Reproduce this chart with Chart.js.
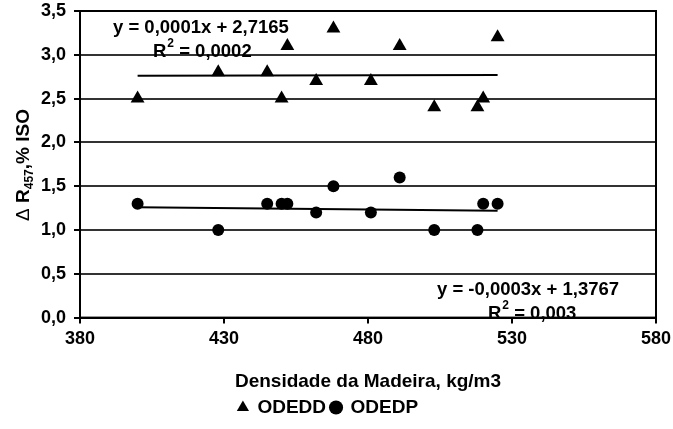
<!DOCTYPE html>
<html>
<head>
<meta charset="utf-8">
<script src="https://cdn.jsdelivr.net/npm/chart.js@4.4.1/dist/chart.umd.min.js"></script>
<style>
  html, body { margin: 0; padding: 0; background: #fff; }
  #wrap { width: 673px; height: 429px; }
</style>
</head>
<body>
<div id="wrap"><canvas id="grafico" width="673" height="429"></canvas></div>
<script>
// dados
const densidade = [400, 428, 445, 450, 452, 462, 468, 481, 491, 503, 518, 520, 525];
const odedd = [2.5, 2.8, 2.8, 2.5, 3.1, 2.7, 3.3, 2.7, 3.1, 2.4, 2.4, 2.5, 3.2];
const odedp = [1.3, 1.0, 1.3, 1.3, 1.3, 1.2, 1.5, 1.2, 1.6, 1.0, 1.0, 1.3, 1.3];
// linhas de tendencia (extremos)
const tendX = [400, 525];
const tendOdedd = [2.76, 2.77];
const tendOdedp = [1.26, 1.22];
const xTicks = [380, 430, 480, 530, 580];
const yTicks = [0, 0.5, 1.0, 1.5, 2.0, 2.5, 3.0, 3.5];
const series = ['ODEDD', 'ODEDP'];
const equacoes = [
    { eq: 'y = 0,0001x + 2,7165', r2: '0,0002' },
    { eq: 'y = -0,0003x + 1,3767', r2: '0,003' }
];

const FONTE = "'Liberation Sans', Arial, sans-serif";
Chart.defaults.font.family = FONTE;
Chart.defaults.color = '#000';

function pontos(xs, ys) {
    return xs.map((x, i) => ({ x: x, y: ys[i] }));
}
function virgula(v) {
    return v.toFixed(1).replace('.', ',');
}

// titulo do eixo y com subscrito
const tituloY = {
    id: 'tituloY',
    afterDraw(chart) {
        const ctx = chart.ctx;
        const partes = [
            { t: '\u0394 ', f: 'normal 19px ' + FONTE, dy: 0 },
            { t: 'R', f: 'bold 19px ' + FONTE, dy: 0 },
            { t: '457', f: 'bold 12px ' + FONTE, dy: 4 },
            { t: ',% ISO', f: 'bold 19px ' + FONTE, dy: 0 }
        ];
        ctx.save();
        let total = 0;
        partes.forEach(p => { ctx.font = p.f; p.w = ctx.measureText(p.t).width; total += p.w; });
        ctx.translate(22, 165);
        ctx.rotate(-Math.PI / 2);
        ctx.fillStyle = '#000';
        ctx.textBaseline = 'alphabetic';
        let x = -total / 2;
        partes.forEach(p => {
            ctx.font = p.f;
            ctx.fillText(p.t, x, 7 + p.dy);
            x += p.w;
        });
        ctx.restore();
    }
};

// equacoes das linhas de tendencia + moldura
const textos = {
    id: 'textos',
    afterDatasetsDraw(chart) {
        const ctx = chart.ctx;
        const a = chart.chartArea;
        ctx.save();
        ctx.strokeStyle = '#000';
        ctx.lineWidth = 2;
        ctx.strokeRect(a.left, a.top, a.right - a.left, a.bottom - a.top);
        ctx.fillStyle = '#000';
        ctx.textBaseline = 'alphabetic';
        const pos = [
            { x1: 113, y1: 33, x2: 153, y2: 57 },
            { x1: 437, y1: 295, x2: 488, y2: 319 }
        ];
        equacoes.forEach((e, i) => {
            const p = pos[i];
            ctx.font = 'bold 18.5px ' + FONTE;
            ctx.fillText(e.eq, p.x1, p.y1);
            ctx.fillText('R', p.x2, p.y2);
            const wR = ctx.measureText('R').width;
            ctx.font = 'bold 12px ' + FONTE;
            ctx.fillText('2', p.x2 + wR + 1, p.y2 - 10);
            const w2 = ctx.measureText('2').width;
            ctx.font = 'bold 18.5px ' + FONTE;
            ctx.fillText(' = ' + e.r2, p.x2 + wR + w2 + 1, p.y2);
        });
        ctx.restore();
    }
};

new Chart(document.getElementById('grafico'), {
    type: 'scatter',
    data: {
        datasets: [{
            label: series[0],
            data: pontos(densidade, odedd),
            pointStyle: 'triangle',
            pointRadius: 8,
            backgroundColor: '#000',
            borderColor: '#000',
            borderWidth: 0,
            order: 1
        }, {
            label: series[1],
            data: pontos(densidade, odedp),
            pointStyle: 'circle',
            pointRadius: 6,
            backgroundColor: '#000',
            borderColor: '#000',
            borderWidth: 0,
            order: 1
        }, {
            label: 'tend1',
            type: 'line',
            data: pontos(tendX, tendOdedd),
            borderColor: '#000',
            borderWidth: 2,
            pointRadius: 0,
            fill: false,
            order: 2
        }, {
            label: 'tend2',
            type: 'line',
            data: pontos(tendX, tendOdedp),
            borderColor: '#000',
            borderWidth: 2,
            pointRadius: 0,
            fill: false,
            order: 2
        }]
    },
    options: {
        responsive: false,
        animation: false,
        devicePixelRatio: 1,
        layout: { padding: { left: 0, right: 17, top: 11, bottom: 2 } },
        plugins: {
            tooltip: { enabled: false },
            legend: {
                position: 'bottom',
                labels: {
                    usePointStyle: true,
                    boxWidth: 10,
                    boxHeight: 10,
                    padding: 5,
                    font: { size: 19, weight: 'bold' },
                    filter: (item) => series.includes(item.text)
                }
            }
        },
        scales: {
            x: {
                type: 'linear',
                min: 380,
                max: 580,
                afterBuildTicks: (s) => { s.ticks = xTicks.map(v => ({ value: v })); },
                afterFit: (s) => { s.paddingRight = 0; s.paddingLeft = 0; },
                ticks: {
                    padding: 5,
                    font: { size: 18, weight: 'bold' },
                    callback: (v) => String(v)
                },
                grid: {
                    drawOnChartArea: false,
                    drawTicks: true,
                    tickLength: 6,
                    color: '#000',
                    lineWidth: 2
                },
                border: { color: '#000', width: 2 },
                title: {
                    display: true,
                    text: 'Densidade da Madeira, kg/m3',
                    font: { size: 19, weight: 'bold' },
                    padding: { top: 15, bottom: 0 }
                }
            },
            y: {
                min: 0,
                max: 3.5,
                afterBuildTicks: (s) => { s.ticks = yTicks.map(v => ({ value: v })); },
                afterFit: (s) => { s.width = 80; s.paddingTop = 0; s.paddingBottom = 0; },
                ticks: {
                    padding: 8,
                    font: { size: 18, weight: 'bold' },
                    callback: (v) => virgula(v)
                },
                grid: {
                    color: '#333',
                    lineWidth: 2,
                    tickLength: 6,
                    tickColor: '#000'
                },
                border: { color: '#000', width: 2 }
            }
        }
    },
    plugins: [tituloY, textos]
});
</script>
</body>
</html>
